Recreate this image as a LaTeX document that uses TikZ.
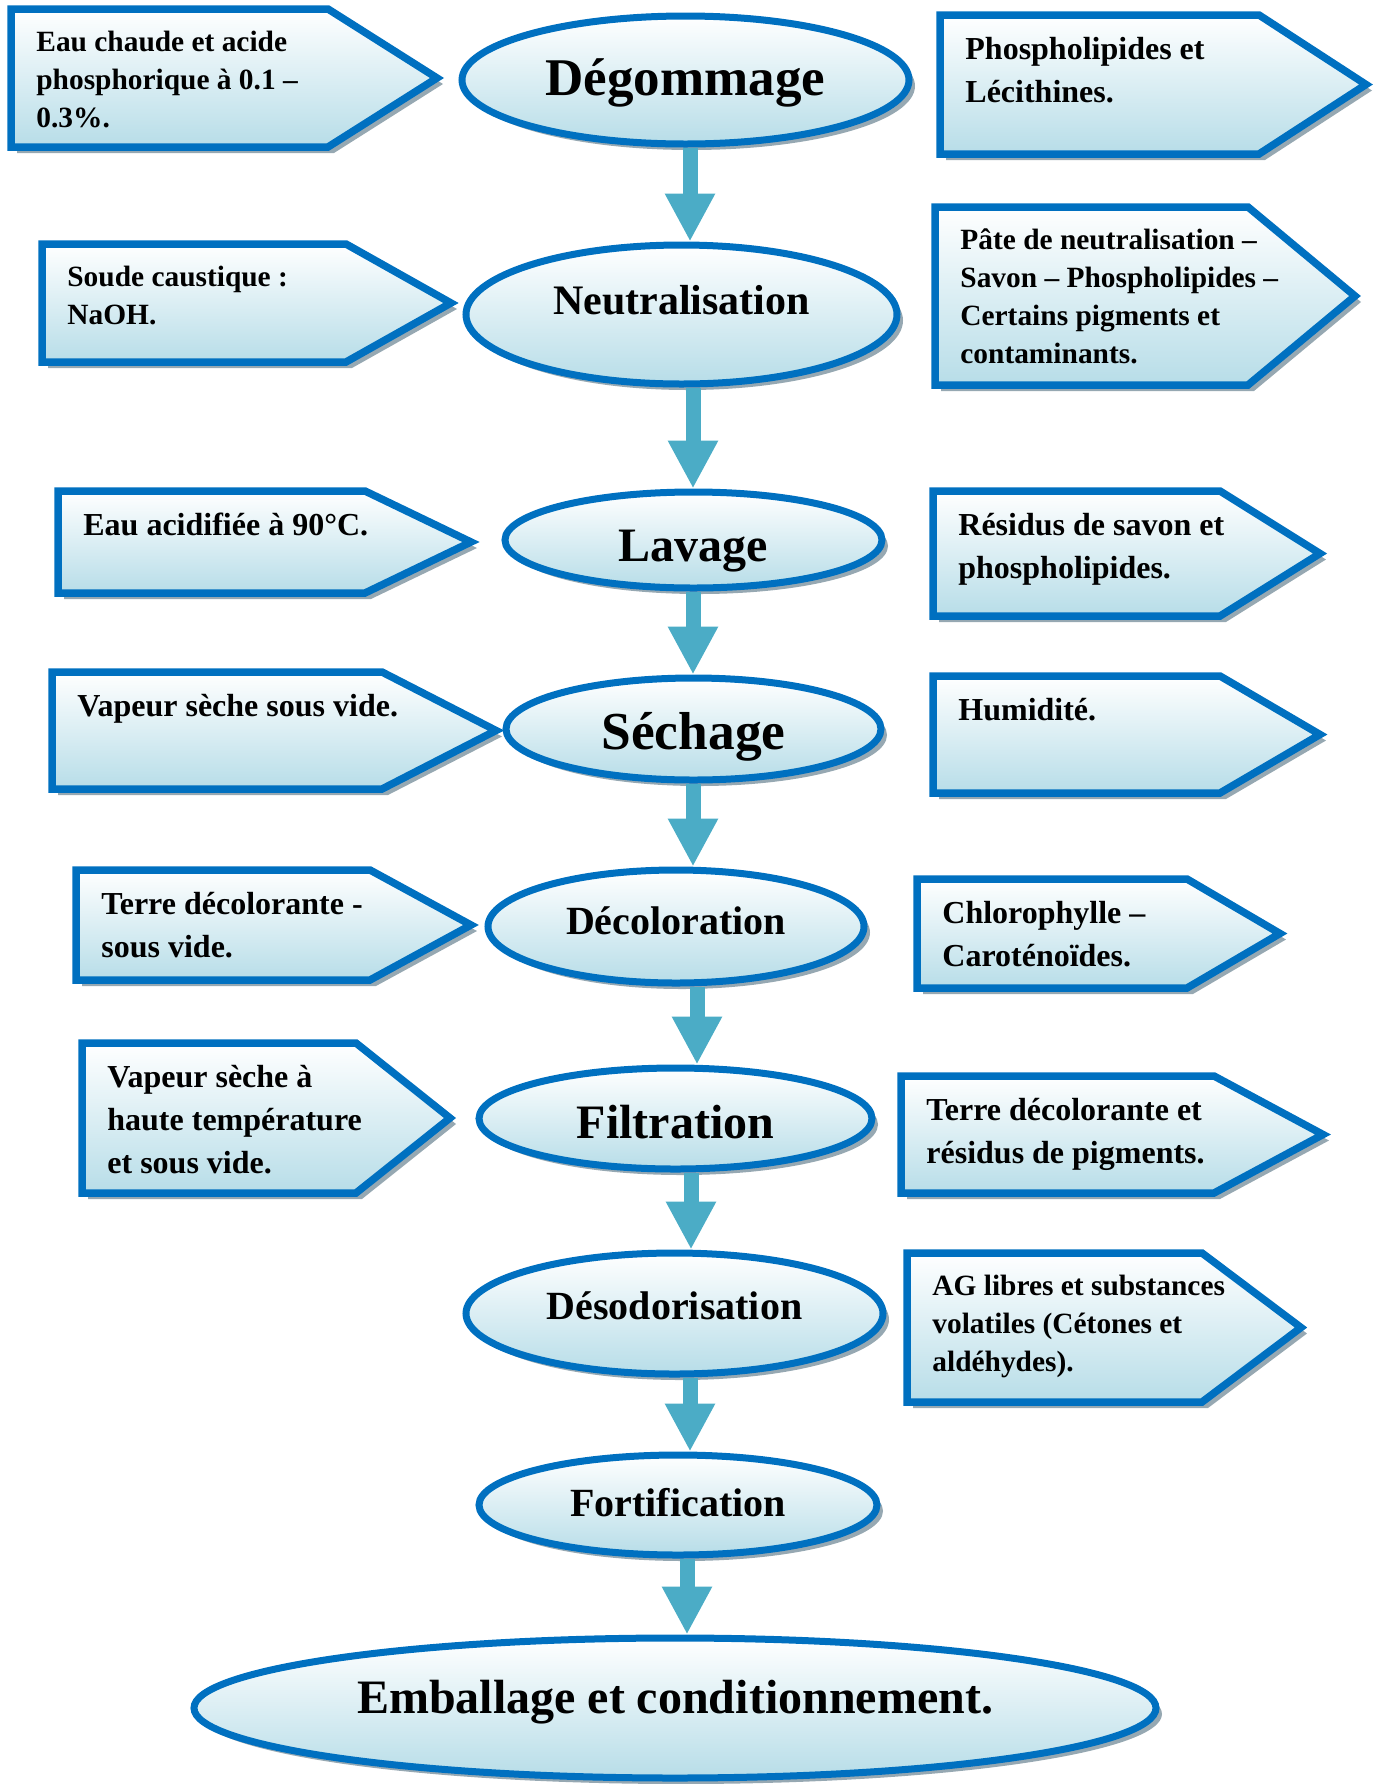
\documentclass[tikz,border=0pt]{standalone}
\usepackage{fontspec}
\setmainfont{Liberation Serif}
\usetikzlibrary{shapes.geometric,shadows,arrows.meta}
\definecolor{bord}{RGB}{0,112,192}
\definecolor{lblue}{RGB}{183,221,232}
\definecolor{arrowc}{RGB}{75,172,198}
\definecolor{shad}{RGB}{150,168,178}
\tikzset{
  shad/.style={drop shadow={shadow xshift=3pt, shadow yshift=-3pt, fill=shad, opacity=1}},
  proc/.style={ellipse, draw=bord, line width=3.5pt, top color=white, bottom color=lblue,
    inner sep=0pt, font=\bfseries, shad},
  calloutshape/.style={draw=bord, line width=3.75pt, top color=white, bottom color=lblue, shad},
  ctsmall/.style={anchor=north west, inner sep=0pt, align=left, yshift=-5pt,
    font=\bfseries\fontsize{14.7}{19}\selectfont},
  ctbig/.style={anchor=north west, inner sep=0pt, align=left, yshift=-6.25pt,
    font=\bfseries\fontsize{16}{21.5}\selectfont},
  bigarr/.style={draw=arrowc, line width=7.5pt, -{Triangle[width=23.5pt,length=24pt]}},
}
% #1 text style, #2 name, #3 left, #4 top, #5 corner x, #6 tip x, #7 bottom, #8 text
\newcommand\callout[8][ctbig]{%
  \path[calloutshape] (#3,#4) -- (#5,#4) -- (#6,{(#4+#7)/2}) -- (#5,#7) -- (#3,#7) -- cycle;
  \node[#1] (#2) at (#3+25,#4) {\rule{0pt}{16pt}#8};
}
% baseline placement inside ellipses: #1 drop below centre, #2 text
\newcommand\bl[2]{\raisebox{-#1}[0pt][0pt]{#2}}
\begin{document}
\begin{tikzpicture}[x=0.5pt,y=-0.5pt]
\useasboundingbox (0,0) rectangle (1384,1784);
% process ellipses
\node[proc, minimum width=223.5pt, minimum height=64pt, font=\bfseries\fontsize{26.5}{30}\selectfont] (deg) at (685.5,80) {\bl{7.5pt}{Dégommage}};
\node[proc, minimum width=215.5pt, minimum height=69.5pt, font=\bfseries\fontsize{21}{25}\selectfont] (neu) at (681.5,314.5) {\bl{0pt}{Neutralisation}};
\node[proc, minimum width=188.5pt, minimum height=48pt, font=\bfseries\fontsize{24}{28}\selectfont] (lav) at (693.5,540) {\bl{10.5pt}{Lavage}};
\node[proc, minimum width=187.5pt, minimum height=51pt, font=\bfseries\fontsize{26.7}{30}\selectfont] (sec) at (693.5,729) {\bl{10pt}{Séchage}};
\node[proc, minimum width=188pt, minimum height=56.5pt, font=\bfseries\fontsize{20}{24}\selectfont] (dec) at (676,926.5) {\bl{3.75pt}{Décoloration}};
\node[proc, minimum width=196.5pt, minimum height=50.5pt, font=\bfseries\fontsize{24}{28}\selectfont] (fil) at (675.5,1118.5) {\bl{9.75pt}{Filtration}};
\node[proc, minimum width=208.5pt, minimum height=60.5pt, font=\bfseries\fontsize{20}{24}\selectfont] (des) at (674.5,1313.5) {\bl{2.75pt}{Désodorisation}};
\node[proc, minimum width=199pt, minimum height=50pt, font=\bfseries\fontsize{20}{24}\selectfont] (fort) at (678,1505) {\bl{5.5pt}{Fortification}};
\node[proc, minimum width=481pt, minimum height=70pt, font=\bfseries\fontsize{24}{28}\selectfont] (emb) at (675,1708) {\bl{2.5pt}{Emballage et conditionnement.}};
% arrows
\draw[bigarr] ([xshift=2.25pt]deg.south) -- ([xshift=2.25pt]deg.south |- neu.north);
\draw[bigarr] ([xshift=5.75pt]neu.south) -- ([xshift=5.75pt]neu.south |- lav.north);
\draw[bigarr] ([xshift=-0.25pt]lav.south) -- ([xshift=-0.25pt]lav.south |- sec.north);
\draw[bigarr] ([xshift=-0.25pt]sec.south) -- ([xshift=-0.25pt]sec.south |- dec.north);
\draw[bigarr] ([xshift=10.5pt]dec.south) -- ([xshift=10.5pt]dec.south |- fil.north);
\draw[bigarr] ([xshift=7.75pt]fil.south) -- ([xshift=7.75pt]fil.south |- des.north);
\draw[bigarr] ([xshift=7.75pt]des.south) -- ([xshift=7.75pt]des.south |- fort.north);
\draw[bigarr] ([xshift=4.5pt]fort.south) -- ([xshift=4.5pt]fort.south |- emb.north);
% left callouts
\callout[ctsmall]{l1}{11}{9}{328}{437}{147}{Eau chaude et acide\\phosphorique à 0.1 –\\0.3\%.}
\callout[ctsmall]{l2}{42}{244}{346}{451}{362}{Soude caustique :\\NaOH.}
\callout{l3}{58}{491}{365}{471}{593}{Eau acidifiée à 90°C.}
\callout{l4}{52}{672}{382}{496}{789}{Vapeur sèche sous vide.}
\callout{l5}{76}{870}{370}{471}{980}{Terre décolorante -\\sous vide.}
\callout{l6}{82}{1043}{356}{450}{1193}{Vapeur sèche à\\haute température\\et sous vide.}
% right callouts
\callout{r1}{940}{15}{1259}{1366}{154}{Phospholipides et\\Lécithines.}
\callout[ctsmall]{r2}{935}{207}{1248}{1355}{385}{Pâte de neutralisation –\\Savon – Phospholipides –\\Certains pigments et\\contaminants.}
\callout{r3}{933}{491}{1220}{1320}{616}{Résidus de savon et\\phospholipides.}
\callout{r4}{933}{676}{1220}{1320}{793}{Humidité.}
\callout{r5}{917}{879}{1187}{1280}{988}{Chlorophylle –\\Caroténoïdes.}
\callout{r6}{901}{1076}{1214}{1323}{1193}{Terre décolorante et\\résidus de pigments.}
\callout[ctsmall]{r7}{907}{1253}{1202}{1301}{1402}{AG libres et substances\\volatiles (Cétones et\\aldéhydes).}
\end{tikzpicture}
\end{document}
